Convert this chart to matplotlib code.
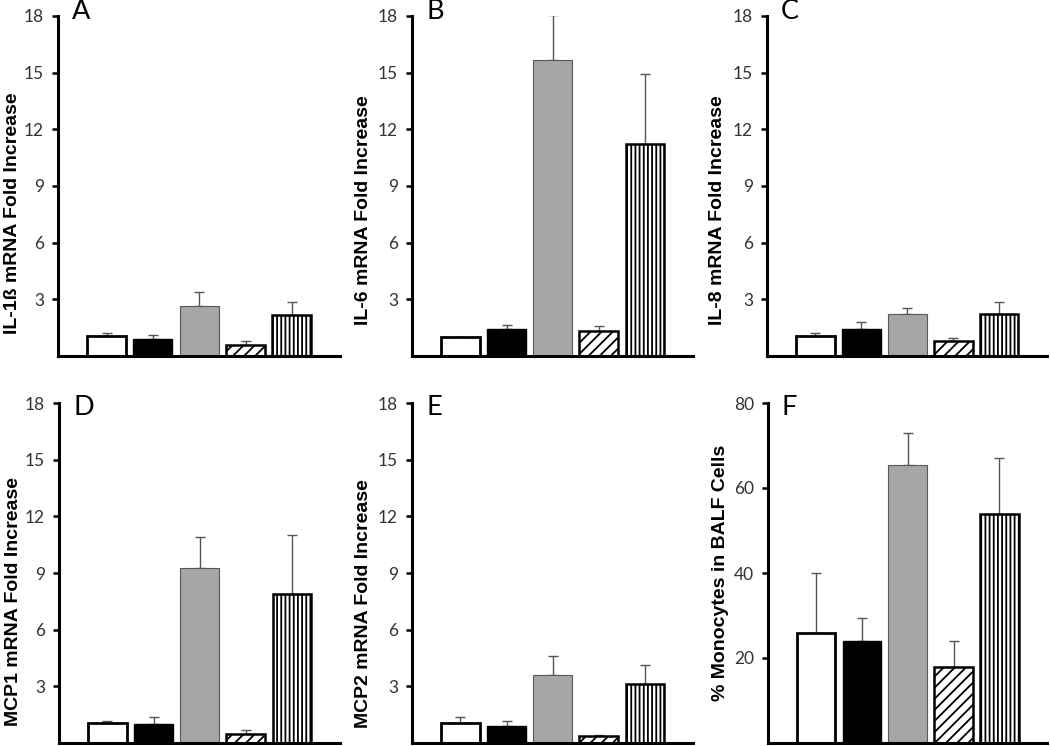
import numpy as np
import matplotlib
matplotlib.use('Agg')
import matplotlib.pyplot as plt

# Panel data: five groups per panel, bar height and upper error (SEM).
panel_letters = ['A', 'B', 'C', 'D', 'E', 'F']
y_labels = ['IL-1ß mRNA Fold Increase', 'IL-6 mRNA Fold Increase', 'IL-8 mRNA Fold Increase',
            'MCP1 mRNA Fold Increase', 'MCP2 mRNA Fold Increase', '% Monocytes in BALF Cells']

il1b_mean = [1.05, 0.88, 2.65, 0.60, 2.15]
il1b_err = [0.15, 0.22, 0.75, 0.18, 0.70]
il6_mean = [1.00, 1.45, 15.65, 1.35, 11.25]
il6_err = [0.00, 0.20, 2.40, 0.25, 3.70]
il8_mean = [1.05, 1.45, 2.20, 0.80, 2.25]
il8_err = [0.18, 0.35, 0.35, 0.15, 0.60]
mcp1_mean = [1.05, 1.02, 9.25, 0.50, 7.90]
mcp1_err = [0.12, 0.35, 1.65, 0.20, 3.10]
mcp2_mean = [1.05, 0.90, 3.60, 0.35, 3.15]
mcp2_err = [0.35, 0.25, 1.00, 0.10, 1.00]
mono_mean = [26.0, 24.0, 65.5, 18.0, 54.0]
mono_err = [14.0, 5.5, 7.5, 6.0, 13.0]

means = [il1b_mean, il6_mean, il8_mean, mcp1_mean, mcp2_mean, mono_mean]
errs = [il1b_err, il6_err, il8_err, mcp1_err, mcp2_err, mono_err]
y_ticks = [[3, 6, 9, 12, 15, 18]] * 5 + [[20, 40, 60, 80]]
y_max = [18] * 5 + [80]

# Bar styles of the five groups.
face_colors = ['white', 'black', '#a6a6a6', 'white', 'white']
edge_colors = ['black', 'black', '#595959', 'black', 'black']
edge_widths = [2.0, 1.0, 0.8, 1.8, 1.8]
hatches = [None, None, None, '///', '||||']

plt.rcParams['hatch.linewidth'] = 1.3

fig = plt.figure(figsize=(10.5, 7.46), dpi=100)

# Axes boxes in pixels: (left, top, right, bottom) from the reference.
boxes = [(58, 16, 340, 356), (412, 16, 693, 356), (767, 16, 1047, 356),
         (59, 403, 340, 743), (412, 403, 693, 743), (768, 403, 1047, 743)]
label_y = [0.42, 0.43, 0.43, 0.415, 0.41, 0.5]
label_dx = [-37, -40, -41, -37, -40, -39]
letter_y = [1.012, 1.012, 1.012, 0.988, 0.988, 0.988]

W, H = 1050, 746
x = np.arange(1, 6)

for i in range(6):
    l, t, r, b = boxes[i]
    ax = fig.add_axes([l / W, 1 - b / H, (r - l) / W, (b - t) / H])

    # Error bars first (only upward), then bars on top.
    ax.errorbar(x, means[i], yerr=[np.zeros(5), errs[i]], fmt='none',
                ecolor='#555555', elinewidth=1.0, capsize=3.3, capthick=1.0, zorder=1)
    for j in range(5):
        ax.bar(x[j], means[i][j], width=0.84, color=face_colors[j],
               edgecolor=edge_colors[j], linewidth=edge_widths[j],
               hatch=hatches[j], zorder=2)

    ax.set_xlim(-0.05, 6.04)
    ax.set_ylim(0, y_max[i])
    ax.set_yticks(y_ticks[i])
    ax.set_xticks([])

    for side in ['top', 'right']:
        ax.spines[side].set_visible(False)
    ax.spines['left'].set_linewidth(2.2)
    ax.spines['bottom'].set_linewidth(2.2)
    ax.tick_params(axis='y', direction='out', length=4, width=1.8, pad=6,
                   labelsize=12.5, labelcolor='#333333')
    for lab in ax.get_yticklabels():
        lab.set_fontfamily('Lato')

    ax.set_ylabel(y_labels[i], fontsize=14, fontweight='bold', family='Liberation Sans')
    ax.yaxis.set_label_coords(label_dx[i] / (r - l), label_y[i])

    ax.text(0.05, letter_y[i], panel_letters[i], transform=ax.transAxes, ha='left', va='center',
            fontsize=19.5, family='Lato')

fig.savefig('out.png', dpi=100)
